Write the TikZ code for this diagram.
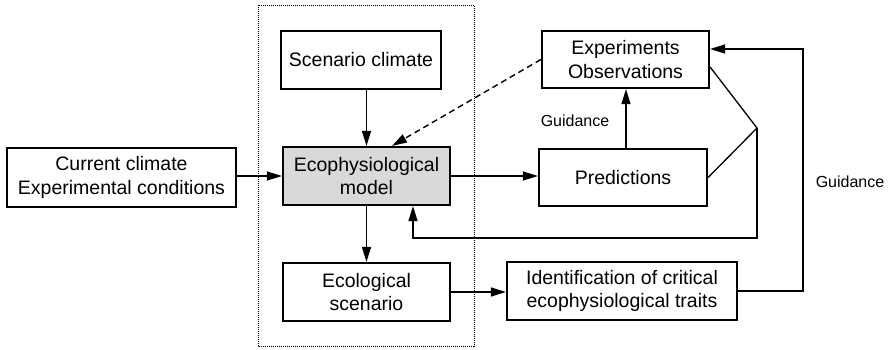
\documentclass[tikz,border=0pt]{standalone}
\usepackage{fontspec}
\setmainfont{Liberation Sans}
\usetikzlibrary{arrows.meta,calc}
\begin{document}
\begin{tikzpicture}[x=1pt,y=-1pt,
  box/.style={draw=black,line width=2.2pt,fill=white,inner sep=0pt,align=center,
    font=\fontsize{19.5}{23.5}\selectfont},
  arr/.style={line width=1.4pt,-{Triangle[length=15pt,width=9pt]}},
  ln/.style={line width=1.3pt},
  lbl/.style={inner sep=0pt,font=\fontsize{16}{19}\selectfont}]
\useasboundingbox (0,0) rectangle (889,349);
\draw[line width=1pt,dash pattern=on 1pt off 1pt] (258,5) rectangle (474,346);
\node[box,minimum width=229pt,minimum height=59pt] (cur) at (121.5,177.5) {Current climate\\Experimental conditions};
\node[box,minimum width=160pt,minimum height=58pt] (scen) at (361,60) {Scenario climate};
\node[box,fill={rgb,255:red,217;green,217;blue,217},minimum width=167pt,minimum height=58pt] (eco) at (366.5,176) {Ecophysiological\\model};
\node[box,minimum width=167pt,minimum height=58pt] (ecs) at (366.5,292) {Ecological\\scenario};
\node[box,minimum width=167pt,minimum height=57pt] (exp) at (625.5,59.5) {Experiments\\Observations};
\node[box,minimum width=168pt,minimum height=57pt] (pred) at (623,177.5) {Predictions};
\node[box,minimum width=230pt,minimum height=58pt] (ident) at (622,291) {Identification of critical\\ecophysiological traits};
\coordinate (j) at (757,128);
\coordinate (g) at (803,49);
\node[lbl] (g1) at (575,121) {Guidance};
\node[lbl] (g2) at (850,182) {Guidance};
\draw[arr] (cur.east |- eco.west) -- (eco.west);
\draw[arr] (scen.south -| eco.north) -- (eco.north);
\draw[arr] (eco.south) -- (ecs.north);
\draw[arr] (eco.east) -- (eco.east -| pred.west);
\draw[arr] ([xshift=3pt]pred.north) -- ([xshift=3pt]pred.north |- exp.south);
\draw[arr] (ecs.east) -- (ecs.east -| ident.west);
\draw[arr] (ident.east) -| (g) -- (g -| exp.east);
\draw[ln] ([yshift=-7.5pt]exp.east) -- (j) -- (pred.east);
\draw[arr] (j) -- (757,238) -| ([xshift=46.5pt]eco.south);
\draw[arr,dash pattern=on 6pt off 4pt] (exp.west) -- ([xshift=25.5pt]eco.north);
\end{tikzpicture}
\end{document}
